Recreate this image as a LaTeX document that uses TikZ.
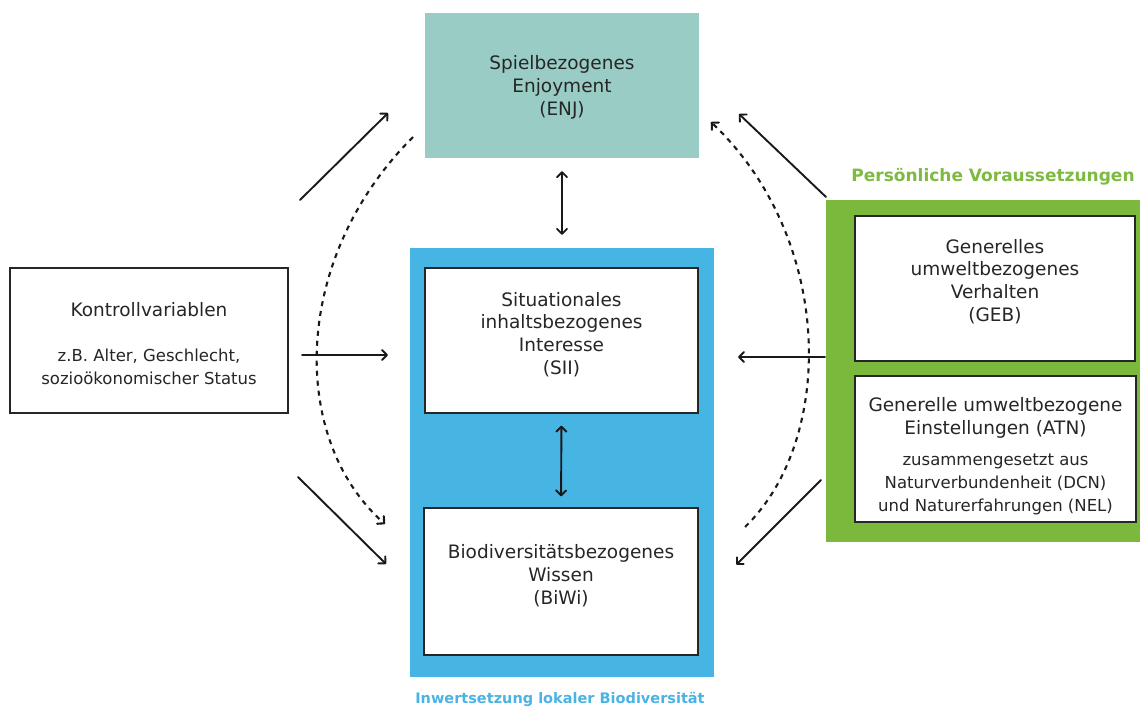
\documentclass[tikz,border=0pt]{standalone}
\usepackage{fontspec}
\setmainfont{DejaVu Sans}
\usetikzlibrary{arrows.meta}
\definecolor{tealbg}{HTML}{9ACCC6}
\definecolor{bluebg}{HTML}{47B5E4}
\definecolor{greenbg}{HTML}{7AB93C}
\definecolor{greentxt}{HTML}{7DBA3F}
\definecolor{bluetxt}{HTML}{4BB3E3}
\newcommand{\smallfnt}{\fontsize{16.5}{22.5}\selectfont}
\tikzset{
  box/.style={draw=black!85, line width=1.3pt, fill=white, inner sep=0pt},
  txt/.style={align=center, inner sep=0pt, font=\fontsize{18.5}{22.8}\selectfont, text=black!85},
  tip/.tip={Straight Barb[length=5pt,width=10pt,line cap=round,line join=round]},
  arr/.style={line width=1.9pt, black!90, line cap=round, -tip},
  darr/.style={line width=1.9pt, black!90, line cap=round, tip-tip},
  dasharr/.style={line width=2.1pt, black!90, dash pattern=on 5pt off 5pt, -tip}
}
\begin{document}
\begin{tikzpicture}[x=1pt,y=-1pt]
\useasboundingbox (0,0) rectangle (1140,709);
% backgrounds
\node[fill=tealbg, minimum width=274pt, minimum height=145pt, inner sep=0pt] (enj) at (562,85.5) {};
\node[txt] (enjt) at ([yshift=-2pt]enj.center) {Spielbezogenes\\Enjoyment\\(ENJ)};
\node[fill=bluebg, minimum width=304pt, minimum height=429pt, inner sep=0pt] (blue) at (562,462.5) {};
\node[fill=greenbg, minimum width=314pt, minimum height=342pt, inner sep=0pt] (green) at (983,371) {};
% boxes
\node[box, minimum width=273pt, minimum height=145pt] (sii) at (561.5,340.5) {};
\node[txt] (siit) at ([yshift=6pt]sii.center) {Situationales\\inhaltsbezogenes\\Interesse\\(SII)};
\node[box, minimum width=274pt, minimum height=147pt] (biwi) at (561,581.5) {};
\node[txt] (biwit) at ([yshift=6pt]biwi.center) {Biodiversitätsbezogenes\\Wissen\\(BiWi)};
\node[box, minimum width=278pt, minimum height=145pt] (kv) at (149,340.5) {};
\node[txt] (kvt) at ([yshift=-3pt]kv.center) {Kontrollvariablen\\[22pt]{\smallfnt z.B. Alter, Geschlecht,}\\{\smallfnt sozioökonomischer Status}};
\node[box, minimum width=280pt, minimum height=145pt] (geb) at (995,288.5) {};
\node[txt] (gebt) at ([yshift=7pt]geb.center) {Generelles\\umweltbezogenes\\Verhalten\\(GEB)};
\node[box, minimum width=281pt, minimum height=146pt] (atn) at (995.5,449) {};
\node[txt] (atnt) at ([yshift=-7pt]atn.center) {Generelle umweltbezogene\\Einstellungen (ATN)\\[9pt]{\smallfnt zusammengesetzt aus}\\{\smallfnt Naturverbundenheit (DCN)}\\{\smallfnt und Naturerfahrungen (NEL)}};
% labels
\node[font=\fontsize{17}{20}\selectfont\bfseries, text=greentxt] (plabel) at (993,177) {Persönliche Voraussetzungen};
\node[font=\fontsize{14.5}{17}\selectfont\bfseries, text=bluetxt] (blabel) at (560,699) {Inwertsetzung lokaler Biodiversität};
% arrow coordinates
\coordinate (l1s) at (300,200); \coordinate (l1e) at (388,113);
\coordinate (l2s) at (302,355); \coordinate (l2e) at (388,355);
\coordinate (l3s) at (298,477); \coordinate (l3e) at (386,564);
\coordinate (r1s) at (826,197); \coordinate (r1e) at (739,114);
\coordinate (r2s) at (825,357); \coordinate (r2e) at (738,357);
\coordinate (r3s) at (821,480); \coordinate (r3e) at (736,565);
\coordinate (lds) at (413,137); \coordinate (lde) at (385,524);
\coordinate (rds) at (745,527); \coordinate (rde) at (711,122);
% arrows
\draw[arr] (l1s) -- (l1e);
\draw[arr] (l2s) -- (l2e);
\draw[arr] (l3s) -- (l3e);
\draw[arr] (r1s) -- (r1e);
\draw[arr] (r2s) -- (r2e);
\draw[arr] (r3s) -- (r3e);
\draw[darr, shorten <=13pt, shorten >=13pt] (enj.south) -- (blue.north);
\draw[darr, shorten <=12pt, shorten >=11pt] (sii.south) -- (biwi.north);
\draw[dasharr] (lds) .. controls (290,260) and (290,440) .. (lde);
\draw[dasharr] (rds) .. controls (835,440) and (835,240) .. (rde);
\end{tikzpicture}
\end{document}
